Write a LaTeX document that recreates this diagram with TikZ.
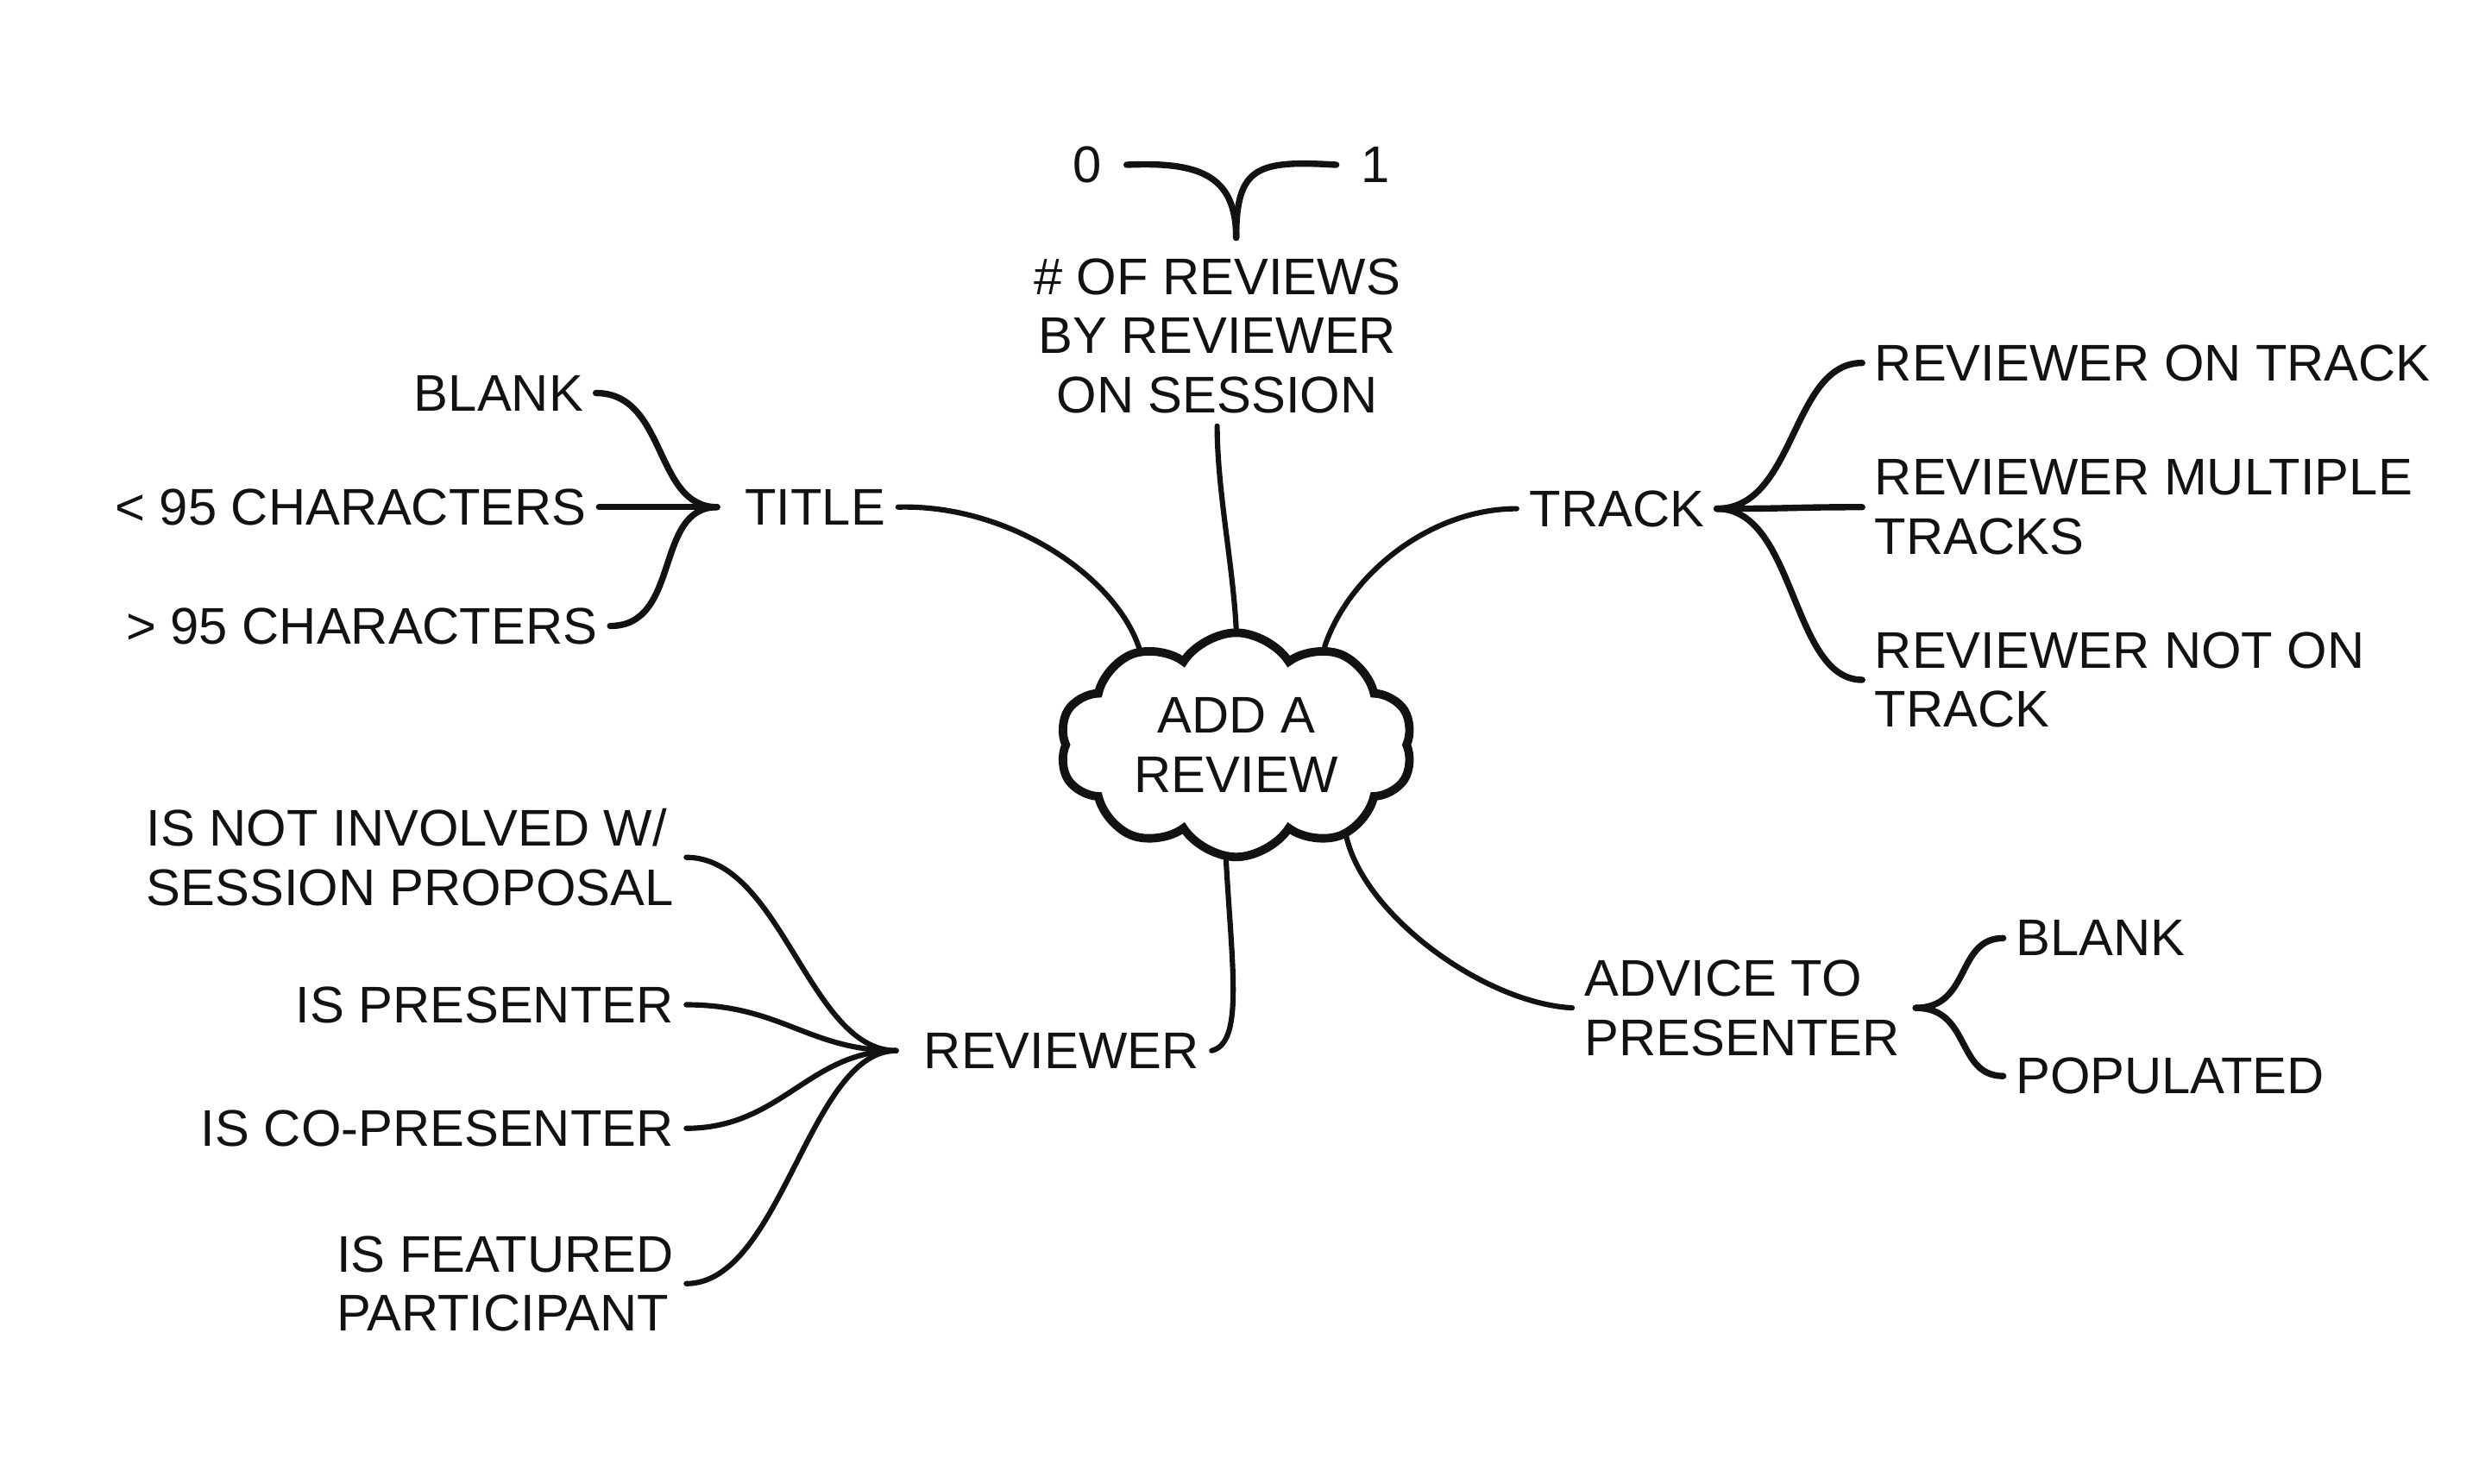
\documentclass[tikz,border=0pt]{standalone}
\usepackage{fontspec}
\setmainfont{Liberation Sans}
\usepackage{tikz}
\usetikzlibrary{shapes.symbols,positioning}
\definecolor{mmInk}{RGB}{18,18,18}

\begin{document}
\begin{tikzpicture}[x=0.018367cm,y=-0.018367cm,
  lbl/.style={inner sep=4pt,font=\fontsize{17}{19.5}\selectfont,text=mmInk},
  link/.style={draw=mmInk,line width=1.75pt,line cap=round},
  brace/.style={draw=mmInk,line width=2.1pt,line cap=round}]
  \useasboundingbox (0,0) rectangle (1568,936);
  % centre
  \node[lbl,cloud,draw=mmInk,line width=2.8pt,cloud puffs=10,cloud puff arc=115,aspect=1.6,
        inner sep=0pt,minimum width=4.1cm,minimum height=2.6cm,align=center] (hub) at (780,470) {ADD A\\REVIEW};
  % number of reviews
  \node[lbl,align=center] (reviews) at (768,212) {\# OF REVIEWS\\BY REVIEWER\\ON SESSION};
  \node[lbl,minimum width=0.9cm] (zero) at (686,104) {0};
  \node[lbl,minimum width=0.9cm] (one) at (868,104) {1};
  \coordinate (revfork) at (780,150);
  \draw[brace] (zero.east) .. controls +(45,-2) and +(0,-40) .. (revfork);
  \draw[brace] (one.west) .. controls +(-50,-3) and +(0,-45) .. (revfork);
  \draw[link] (reviews.south) .. controls +(0,40) and +(-2,-40) .. (hub.north);
  % title
  \node[lbl,anchor=west] (title) at (462,320) {TITLE};
  \node[lbl,anchor=east] (tblank) at (376,248) {BLANK};
  \node[lbl,anchor=east] (tless) at (378,320) {< 95 CHARACTERS};
  \node[lbl,anchor=east] (tmore) at (385,395) {> 95 CHARACTERS};
  \coordinate[left=5pt of title.west] (titlefork);
  \foreach \opt in {tblank,tless,tmore}
    \draw[brace] (\opt.east) .. controls +(45,0) and +(-40,0) .. (titlefork);
  \draw[link] (title.east) .. controls +(70,-2) and +(-15,-45) .. (hub.135);
  % track
  \node[lbl,anchor=west] (track) at (957,321) {TRACK};
  \node[lbl,anchor=west] (tontrack) at (1175,229) {REVIEWER ON TRACK};
  \node[lbl,anchor=west,align=left] (tmulti) at (1175,320) {REVIEWER MULTIPLE\\TRACKS};
  \node[lbl,anchor=west,align=left] (tnoton) at (1175,429) {REVIEWER NOT ON\\TRACK};
  \draw[link] (hub.48) .. controls +(15,-45) and +(-55,0) .. (track.west);
  \foreach \opt in {tontrack,tmulti,tnoton}
    \draw[brace] (track.east) .. controls +(50,0) and +(-45,0) .. (\opt.west);
  % advice
  \node[lbl,anchor=west,align=left] (advice) at (992,636) {ADVICE TO\\PRESENTER};
  \node[lbl,anchor=west] (ablank) at (1264,592) {BLANK};
  \node[lbl,anchor=west] (apop) at (1264,679) {POPULATED};
  \coordinate[right=1pt of advice.east] (advfork);
  \draw[link] (hub.-40) .. controls +(12,50) and +(-55,-3) .. (advice.west);
  \foreach \opt in {ablank,apop}
    \draw[brace] (advfork) .. controls +(35,0) and +(-30,0) .. (\opt.west);
  % reviewer
  \node[lbl,anchor=west] (reviewer) at (575,663) {REVIEWER};
  \coordinate[left=5pt of reviewer.west] (rvfork);
  \node[lbl,anchor=east,align=left] (rnot) at (433,541) {IS NOT INVOLVED W/\\SESSION PROPOSAL};
  \node[lbl,anchor=east] (rpres) at (433,634) {IS PRESENTER};
  \node[lbl,anchor=east] (rco) at (433,712) {IS CO-PRESENTER};
  \node[lbl,anchor=east,align=left] (rfeat) at (433,810) {IS FEATURED\\PARTICIPANT};
  \draw[link] (hub.-95) .. controls +(4,70) and +(20,-5) .. (reviewer.east);
  \foreach \opt in {rnot,rpres,rco,rfeat}
    \draw[link] (\opt.east) .. controls +(60,0) and +(-55,0) .. (rvfork);
\end{tikzpicture}
\end{document}
